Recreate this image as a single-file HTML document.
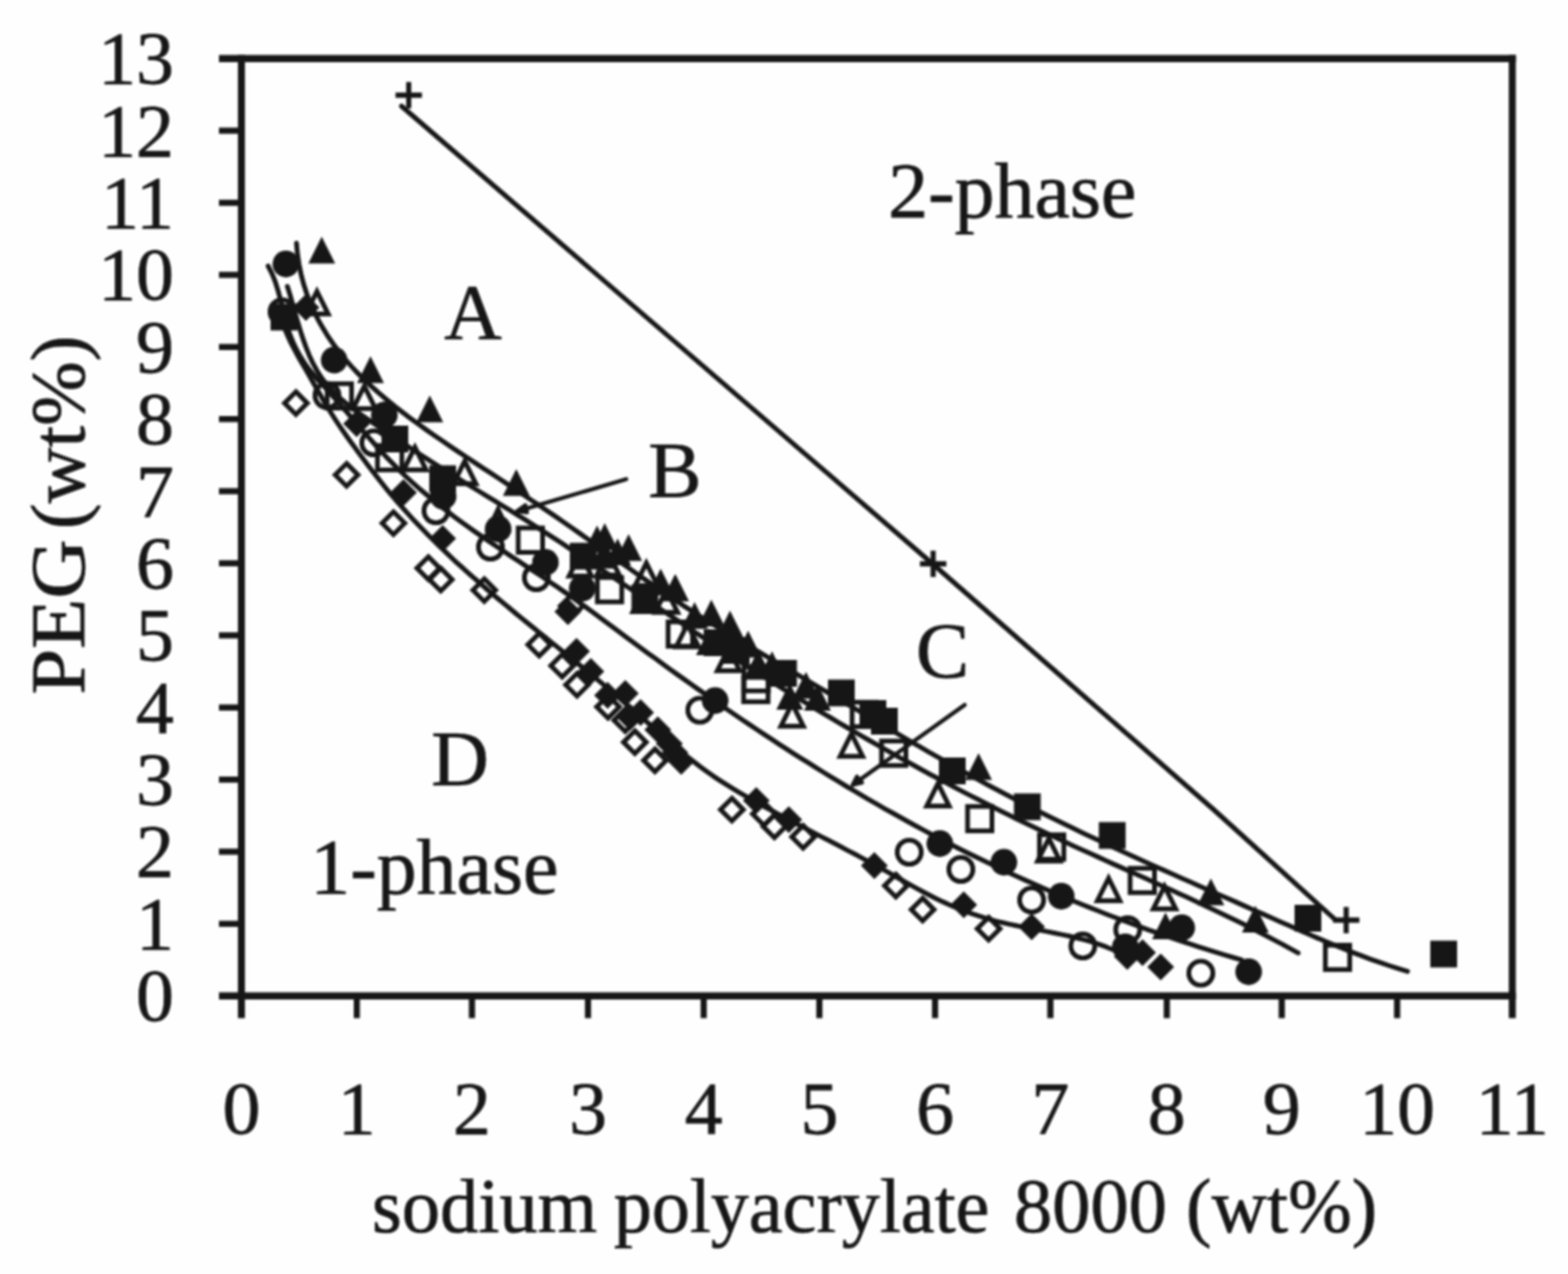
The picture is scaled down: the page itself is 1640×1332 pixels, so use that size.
<!DOCTYPE html>
<html lang="en"><head><meta charset="utf-8"><title>PEG / sodium polyacrylate 8000 phase diagram</title>
<style>
html,body{margin:0;padding:0;background:#fefefe;}
body{width:1640px;height:1332px;overflow:hidden;}
svg{display:block;}
text{font-family:"Liberation Serif","Times New Roman",Times,serif;fill:#131313;stroke:#131313;stroke-width:0.7px;stroke-linejoin:round;}
.t{font-size:79.3px;}
.xl{font-size:80px;}
.r{font-size:83.5px;}
.ax{stroke:#131313;stroke-width:7.3;fill:none;stroke-linecap:butt;}
.tk{stroke:#131313;stroke-width:6.4;fill:none;}
.cv{stroke:#131313;stroke-width:5.0;fill:none;stroke-linecap:round;stroke-linejoin:round;}
.ar{stroke:#131313;stroke-width:4.2;fill:none;stroke-linecap:round;stroke-linejoin:round;}
.f{fill:#131313;stroke:none;}
.o{fill:none;stroke:#131313;stroke-width:4.9;stroke-linejoin:miter;}
.p{fill:none;stroke:#131313;stroke-width:5.3;}
</style></head><body>
<svg width="1640" height="1332" viewBox="0 0 1640 1332" role="img" aria-label="Phase diagram of PEG versus sodium polyacrylate 8000">
<defs><filter id="soft" x="0" y="0" width="1640" height="1332" filterUnits="userSpaceOnUse"><feGaussianBlur stdDeviation="0.9"/></filter></defs>
<rect width="1640" height="1332" fill="#fefefe"/>
<g filter="url(#soft)">
<g class="ax">
<path d="M229.00,61.25 H1585.40"/>
<path d="M229.00,1041.25 H1585.40"/>
<path d="M252.50,57.60 V1064.50"/>
<path d="M1581.75,57.60 V1064.50"/>
</g>
<g class="tk">
<path d="M229,965.87 H252.50"/>
<path d="M229,890.48 H252.50"/>
<path d="M229,815.10 H252.50"/>
<path d="M229,739.71 H252.50"/>
<path d="M229,664.33 H252.50"/>
<path d="M229,588.94 H252.50"/>
<path d="M229,513.56 H252.50"/>
<path d="M229,438.17 H252.50"/>
<path d="M229,362.79 H252.50"/>
<path d="M229,287.40 H252.50"/>
<path d="M229,212.02 H252.50"/>
<path d="M229,136.63 H252.50"/>
<path d="M373.20,1041.25 V1064.5"/>
<path d="M493.60,1041.25 V1064.5"/>
<path d="M615.00,1041.25 V1064.5"/>
<path d="M736.00,1041.25 V1064.5"/>
<path d="M857.00,1041.25 V1064.5"/>
<path d="M978.00,1041.25 V1064.5"/>
<path d="M1098.60,1041.25 V1064.5"/>
<path d="M1220.40,1041.25 V1064.5"/>
<path d="M1340.60,1041.25 V1064.5"/>
<path d="M1461.30,1041.25 V1064.5"/>
</g>
<g class="t" text-anchor="end">
<text x="182" y="1067.2">0</text>
<text x="182" y="991.8">1</text>
<text x="182" y="916.4">2</text>
<text x="182" y="841.0">3</text>
<text x="182" y="765.6">4</text>
<text x="182" y="690.2">5</text>
<text x="182" y="614.8">6</text>
<text x="182" y="539.5">7</text>
<text x="182" y="464.1">8</text>
<text x="182" y="388.7">9</text>
<text x="182" y="313.3">10</text>
<text x="182" y="237.9">11</text>
<text x="182" y="162.5">12</text>
<text x="182" y="87.2">13</text>
</g>
<g class="t" text-anchor="middle">
<text x="252.5" y="1184.7">0</text>
<text x="373.2" y="1184.7">1</text>
<text x="493.6" y="1184.7">2</text>
<text x="615.0" y="1184.7">3</text>
<text x="736.0" y="1184.7">4</text>
<text x="857.0" y="1184.7">5</text>
<text x="978.0" y="1184.7">6</text>
<text x="1098.6" y="1184.7">7</text>
<text x="1220.4" y="1184.7">8</text>
<text x="1340.6" y="1184.7">9</text>
<text x="1461.3" y="1184.7">10</text>
<text x="1581.8" y="1184.7">11</text>
</g>
<text class="xl" y="1288"><tspan x="389.0">sodium</tspan> <tspan x="642.0" style="font-size:79.5px">polyacrylate</tspan> <tspan x="1060.5">8000</tspan> <tspan x="1240.5">(wt%)</tspan></text>
<text class="xl" transform="translate(88,726.3) rotate(-90) scale(1.075,1.015)">PEG</text>
<text class="xl" transform="translate(88,553.2) rotate(-90) scale(1.012,1.015)">(wt%)</text>
<text class="r" x="929" y="226.5">2-phase</text>
<text class="r" x="324.5" y="934.2">1-phase</text>
<text class="r" x="464.5" y="353.5">A</text>
<text class="r" x="678" y="519">B</text>
<text class="r" x="958" y="708">C</text>
<text class="r" x="451" y="821">D</text>
<g class="cv">
<path d="M420.0,111.0 L976.0,590.0 L1270.0,847.0 L1396.0,961.0"/>
<path d="M310.1,254.2 L311.1,265.2 L312.7,275.9 L314.8,286.3 L317.4,296.5 L320.6,306.3 L324.2,315.9 L328.2,325.1 L332.7,334.2 L337.7,342.9 L342.9,351.5 L348.6,359.7 L354.6,367.8 L361.0,375.6 L367.6,383.1 L374.5,390.5 L381.7,397.6 L389.2,404.6 L396.8,411.4 L404.6,418.0 L412.5,424.5 L420.6,430.8 L428.8,437.0 L437.1,443.1 L445.5,449.1 L453.9,455.0 L462.4,460.8 L470.9,466.6 L479.4,472.4 L488.0,478.0 L496.5,483.7 L505.1,489.3 L513.7,494.9 L522.2,500.5 L530.7,506.2 L539.3,511.8 L547.8,517.5 L556.2,523.2 L564.7,528.9 L573.1,534.6 L581.6,540.4 L590.0,546.2 L598.3,552.0 L606.7,557.9 L615.0,563.8 L623.4,569.7 L631.7,575.6 L640.1,581.5 L648.4,587.4 L656.8,593.3 L665.1,599.2 L673.5,605.1 L681.9,610.9 L690.4,616.7 L698.8,622.4 L707.3,628.1 L715.8,633.8 L724.4,639.3 L733.0,644.8 L741.7,650.3 L750.4,655.7 L759.1,661.0 L767.9,666.3 L776.6,671.5 L785.4,676.8 L794.3,682.0 L803.1,687.1 L811.9,692.3 L820.8,697.5 L829.6,702.7 L838.4,707.9 L847.2,713.1 L856.1,718.3 L864.9,723.5 L873.7,728.8 L882.5,734.0 L891.3,739.2 L900.1,744.4 L908.9,749.7 L917.7,754.9 L926.6,760.1 L935.4,765.2 L944.2,770.4 L953.1,775.6 L961.9,780.7 L970.8,785.8 L979.7,790.9 L988.6,795.9 L997.5,800.9 L1006.4,805.9 L1015.4,810.9 L1024.4,815.8 L1033.3,820.7 L1042.4,825.5 L1051.4,830.3 L1060.5,835.0 L1069.5,839.7 L1078.6,844.3 L1087.8,848.9 L1096.9,853.5 L1106.1,858.0 L1115.3,862.5 L1124.5,867.0 L1133.7,871.4 L1142.9,875.8 L1152.2,880.1 L1161.4,884.5 L1170.7,888.7 L1180.0,893.0 L1189.3,897.3 L1198.6,901.5 L1208.0,905.7 L1217.3,909.9 L1226.7,914.0 L1236.0,918.2 L1245.4,922.3 L1254.7,926.5 L1264.1,930.6 L1273.5,934.7 L1282.8,938.8 L1292.2,942.9 L1301.6,947.1 L1310.9,951.2 L1320.3,955.4 L1329.6,959.5 L1339.0,963.7 L1348.4,967.8 L1357.7,971.9 L1367.1,976.0 L1376.5,980.1 L1385.9,984.0 L1395.3,988.0 L1404.8,991.8 L1414.3,995.6 L1423.8,999.2 L1433.4,1002.8 L1443.0,1006.2 L1452.7,1009.5 L1462.4,1012.6 L1472.2,1015.6"/>
<path d="M300.6,299.5 L303.4,308.5 L306.0,317.6 L308.5,326.8 L311.2,335.9 L313.9,344.9 L316.8,353.9 L319.9,362.6 L323.3,371.2 L327.1,379.4 L331.4,387.3 L336.2,394.8 L341.5,401.9 L347.5,408.5 L354.0,414.8 L360.8,420.7 L368.0,426.4 L375.5,431.9 L383.1,437.3 L390.9,442.6 L398.6,447.9 L406.4,453.2 L414.2,458.5 L422.0,463.7 L429.8,468.9 L437.7,474.0 L445.6,479.1 L453.4,484.1 L461.3,489.0 L469.2,494.0 L477.1,498.9 L485.0,503.8 L492.9,508.6 L500.8,513.5 L508.7,518.4 L516.6,523.2 L524.5,528.1 L532.4,532.9 L540.3,537.8 L548.1,542.7 L555.9,547.7 L563.8,552.7 L571.6,557.7 L579.4,562.7 L587.2,567.7 L594.9,572.8 L602.7,577.9 L610.5,583.0 L618.2,588.2 L626.0,593.3 L633.7,598.5 L641.4,603.7 L649.2,608.8 L656.9,614.0 L664.6,619.2 L672.3,624.4 L680.1,629.6 L687.8,634.8 L695.5,640.0 L703.3,645.2 L711.0,650.3 L718.8,655.5 L726.5,660.7 L734.3,665.8 L742.1,670.9 L749.8,676.1 L757.6,681.1 L765.4,686.2 L773.3,691.3 L781.1,696.3 L788.9,701.3 L796.8,706.3 L804.7,711.2 L812.5,716.2 L820.4,721.1 L828.3,726.0 L836.3,730.8 L844.2,735.7 L852.2,740.5 L860.1,745.3 L868.1,750.0 L876.1,754.8 L884.1,759.5 L892.1,764.2 L900.2,768.8 L908.2,773.5 L916.3,778.1 L924.3,782.7 L932.4,787.2 L940.5,791.8 L948.7,796.3 L956.8,800.8 L964.9,805.2 L973.1,809.7 L981.3,814.0 L989.5,818.4 L997.7,822.8 L1005.9,827.1 L1014.2,831.4 L1022.4,835.6 L1030.7,839.8 L1039.0,844.0 L1047.3,848.2 L1055.6,852.3 L1063.9,856.4 L1072.3,860.5 L1080.7,864.6 L1089.1,868.6 L1097.5,872.6 L1105.9,876.5 L1114.3,880.5 L1122.8,884.4 L1131.2,888.2 L1139.7,892.1 L1148.2,895.9 L1156.6,899.8 L1165.1,903.6 L1173.6,907.4 L1182.1,911.2 L1190.6,915.0 L1199.1,918.8 L1207.6,922.7 L1216.1,926.5 L1224.6,930.3 L1233.0,934.2 L1241.5,938.1 L1249.9,942.0 L1258.3,945.9 L1266.8,949.9 L1275.2,953.9 L1283.5,957.9 L1291.9,962.0 L1300.2,966.1 L1308.5,970.3 L1316.8,974.5 L1325.1,978.7 L1333.3,983.1 L1341.5,987.4 L1349.6,991.9 L1357.8,996.4"/>
<path d="M280.4,278.1 L284.5,286.1 L287.9,294.6 L290.7,303.5 L293.2,312.7 L295.4,321.9 L297.7,331.2 L300.2,340.3 L303.0,349.2 L306.5,357.8 L310.4,366.0 L314.9,373.9 L319.8,381.5 L325.3,388.7 L331.2,395.7 L337.4,402.4 L343.6,409.1 L349.7,416.0 L355.8,422.9 L361.9,429.9 L368.0,437.0 L374.1,444.0 L380.1,451.1 L386.3,458.1 L392.4,465.0 L398.7,471.9 L405.0,478.7 L411.4,485.3 L418.0,491.9 L424.6,498.2 L431.4,504.5 L438.3,510.6 L445.3,516.5 L452.4,522.4 L459.5,528.2 L466.8,533.8 L474.1,539.4 L481.5,544.9 L488.9,550.3 L496.4,555.6 L504.0,560.9 L511.6,566.1 L519.3,571.3 L526.9,576.4 L534.6,581.6 L542.4,586.7 L550.1,591.8 L557.8,596.9 L565.6,602.0 L573.2,607.2 L580.9,612.3 L588.5,617.6 L596.1,622.9 L603.6,628.2 L611.1,633.6 L618.5,639.0 L625.9,644.5 L633.3,650.0 L640.7,655.5 L648.1,661.0 L655.4,666.5 L662.9,672.0 L670.3,677.4 L677.7,682.9 L685.2,688.3 L692.6,693.8 L700.1,699.2 L707.6,704.6 L715.1,709.9 L722.7,715.3 L730.2,720.6 L737.8,725.9 L745.4,731.2 L753.0,736.5 L760.6,741.7 L768.3,747.0 L775.9,752.2 L783.6,757.3 L791.3,762.5 L799.0,767.6 L806.7,772.7 L814.5,777.8 L822.3,782.8 L830.0,787.8 L837.9,792.8 L845.7,797.7 L853.5,802.6 L861.4,807.5 L869.3,812.4 L877.2,817.2 L885.1,822.0 L893.1,826.7 L901.0,831.4 L909.0,836.1 L917.0,840.7 L925.0,845.3 L933.1,849.8 L941.2,854.3 L949.2,858.8 L957.4,863.2 L965.5,867.6 L973.6,872.0 L981.8,876.3 L990.0,880.5 L998.2,884.7 L1006.5,888.9 L1014.7,893.0 L1023.0,897.1 L1031.3,901.1 L1039.6,905.1 L1048.0,909.0 L1056.4,912.9 L1064.7,916.8 L1073.2,920.6 L1081.6,924.3 L1090.0,928.1 L1098.5,931.7 L1107.0,935.4 L1115.5,938.9 L1124.0,942.5 L1132.6,946.0 L1141.1,949.4 L1149.7,952.8 L1158.3,956.2 L1167.0,959.5 L1175.6,962.7 L1184.3,966.0 L1192.9,969.1 L1201.6,972.3 L1210.4,975.3 L1219.1,978.4 L1227.9,981.4 L1236.6,984.3 L1245.4,987.2 L1254.2,990.1 L1263.1,992.9 L1271.9,995.7 L1280.8,998.4 L1289.7,1001.0 L1298.6,1003.7"/>
<path d="M295.2,336.3 L297.9,343.9 L301.0,351.3 L304.4,358.6 L308.1,365.7 L311.9,372.7 L315.9,379.7 L319.9,386.6 L323.9,393.5 L327.8,400.4 L331.8,407.3 L335.7,414.1 L339.7,421.0 L343.8,427.8 L348.0,434.5 L352.3,441.2 L356.7,447.7 L361.3,454.3 L365.9,460.8 L370.7,467.3 L375.4,473.8 L380.3,480.2 L385.1,486.7 L390.1,493.2 L395.1,499.6 L400.1,506.0 L405.2,512.4 L410.4,518.6 L415.7,524.8 L421.1,530.9 L426.5,536.9 L431.9,542.9 L437.5,548.8 L443.1,554.6 L448.7,560.3 L454.5,566.0 L460.2,571.7 L466.1,577.2 L471.9,582.8 L477.8,588.3 L483.8,593.7 L489.8,599.1 L495.9,604.4 L501.9,609.7 L508.0,615.0 L514.2,620.3 L520.4,625.5 L526.6,630.7 L532.8,635.8 L539.0,641.0 L545.3,646.1 L551.6,651.2 L557.8,656.3 L564.1,661.4 L570.5,666.5 L576.8,671.6 L583.1,676.6 L589.4,681.7 L595.7,686.8 L602.0,691.9 L608.3,697.0 L614.6,702.1 L620.9,707.3 L627.1,712.4 L633.4,717.6 L639.6,722.8 L645.8,728.0 L652.0,733.3 L658.1,738.6 L664.3,743.9 L670.3,749.3 L676.4,754.7 L682.5,760.0 L688.6,765.4 L694.7,770.7 L700.8,776.0 L707.0,781.3 L713.2,786.5 L719.4,791.6 L725.8,796.5 L732.2,801.4 L738.7,806.2 L745.2,810.8 L751.9,815.3 L758.7,819.7 L765.5,823.9 L772.5,828.1 L779.4,832.2 L786.5,836.2 L793.5,840.1 L800.6,844.0 L807.7,847.8 L814.9,851.6 L822.0,855.4 L829.2,859.2 L836.3,862.9 L843.5,866.6 L850.7,870.4 L857.8,874.1 L865.0,877.8 L872.2,881.5 L879.4,885.3 L886.5,889.1 L893.7,892.8 L900.8,896.6 L907.9,900.5 L915.1,904.3 L922.2,908.2 L929.2,912.2 L936.3,916.2 L943.4,920.2 L950.4,924.2 L957.5,928.1 L964.6,932.0 L971.8,935.8 L979.0,939.4 L986.3,942.9 L993.6,946.2 L1001.1,949.4 L1008.6,952.3 L1016.1,955.1 L1023.8,957.7 L1031.5,960.1 L1039.2,962.3 L1047.1,964.3 L1055.0,966.1 L1062.9,967.8 L1070.8,969.4 L1078.8,970.9 L1086.8,972.4 L1094.8,973.9 L1102.7,975.5 L1110.7,977.1 L1118.6,978.8 L1126.5,980.7 L1134.3,982.7 L1142.1,984.9 L1149.8,987.4 L1157.4,990.2 L1164.9,993.2"/>
</g>
<g class="ar">
<path d="M655,501 L541,534.5"/>
<path d="M549.5,528.2 L541,534.5 L551.2,535.6 Z" fill="#131313"/>
<path d="M1009,737 L892,820.5"/>
<path d="M896.3,812 L892,820.5 L901.6,818.2 Z" fill="#131313"/>
</g>
<g class="f">
<rect x="283.0" y="317.5" width="28.0" height="28.0"/>
<rect x="399.0" y="445.0" width="28.0" height="28.0"/>
<rect x="449.0" y="486.5" width="28.0" height="28.0"/>
<rect x="596.0" y="567.5" width="28.0" height="28.0"/>
<rect x="660.5" y="611.0" width="28.0" height="28.0"/>
<rect x="736.0" y="658.0" width="28.0" height="28.0"/>
<rect x="756.0" y="666.0" width="28.0" height="28.0"/>
<rect x="805.5" y="690.0" width="28.0" height="28.0"/>
<rect x="866.0" y="710.5" width="28.0" height="28.0"/>
<rect x="899.0" y="732.0" width="28.0" height="28.0"/>
<rect x="911.0" y="740.0" width="28.0" height="28.0"/>
<rect x="982.0" y="792.0" width="28.0" height="28.0"/>
<rect x="1060.5" y="829.5" width="28.0" height="28.0"/>
<rect x="1149.3" y="859.5" width="28.0" height="28.0"/>
<rect x="1354.0" y="946.0" width="28.0" height="28.0"/>
<rect x="1496.0" y="983.5" width="28.0" height="28.0"/>
<path d="M336.5,247.5 L350.5,275.5 L322.5,275.5 Z"/>
<path d="M387.5,372.5 L401.5,400.5 L373.5,400.5 Z"/>
<path d="M449.5,413.5 L463.5,441.5 L435.5,441.5 Z"/>
<path d="M540.0,490.5 L554.0,518.5 L526.0,518.5 Z"/>
<path d="M631.0,566.5 L645.0,594.5 L617.0,594.5 Z"/>
<path d="M646.0,563.0 L660.0,591.0 L632.0,591.0 Z"/>
<path d="M742.0,657.0 L756.0,685.0 L728.0,685.0 Z"/>
<path d="M793.0,679.5 L807.0,707.5 L779.0,707.5 Z"/>
<path d="M624.5,549.5 L638.5,577.5 L610.5,577.5 Z"/>
<path d="M632.5,547.0 L646.5,575.0 L618.5,575.0 Z"/>
<path d="M657.5,558.5 L671.5,586.5 L643.5,586.5 Z"/>
<path d="M672.0,614.0 L686.0,642.0 L658.0,642.0 Z"/>
<path d="M691.0,594.5 L705.0,622.5 L677.0,622.5 Z"/>
<path d="M706.0,600.5 L720.0,628.5 L692.0,628.5 Z"/>
<path d="M706.5,600.5 L720.5,628.5 L692.5,628.5 Z"/>
<path d="M726.5,629.5 L740.5,657.5 L712.5,657.5 Z"/>
<path d="M744.0,627.0 L758.0,655.0 L730.0,655.0 Z"/>
<path d="M763.5,638.5 L777.5,666.5 L749.5,666.5 Z"/>
<path d="M782.5,659.5 L796.5,687.5 L768.5,687.5 Z"/>
<path d="M807.5,681.0 L821.5,709.0 L793.5,709.0 Z"/>
<path d="M843.0,702.5 L857.0,730.5 L829.0,730.5 Z"/>
<path d="M826.0,714.0 L840.0,742.0 L812.0,742.0 Z"/>
<path d="M855.0,715.0 L869.0,743.0 L841.0,743.0 Z"/>
<path d="M1023.5,787.5 L1037.5,815.5 L1009.5,815.5 Z"/>
<path d="M1266.5,918.5 L1280.5,946.5 L1252.5,946.5 Z"/>
<path d="M1313.0,947.0 L1327.0,975.0 L1299.0,975.0 Z"/>
<path d="M1219.0,954.0 L1233.0,982.0 L1205.0,982.0 Z"/>
<circle cx="299.0" cy="276.0" r="13.9"/>
<circle cx="349.5" cy="376.5" r="13.9"/>
<circle cx="402.0" cy="434.0" r="13.9"/>
<circle cx="463.5" cy="519.0" r="13.9"/>
<circle cx="521.0" cy="553.0" r="13.9"/>
<circle cx="570.5" cy="588.0" r="13.9"/>
<circle cx="609.0" cy="615.0" r="13.9"/>
<circle cx="748.0" cy="732.5" r="13.9"/>
<circle cx="983.0" cy="882.0" r="13.9"/>
<circle cx="1050.0" cy="901.5" r="13.9"/>
<circle cx="1110.0" cy="937.0" r="13.9"/>
<circle cx="1236.0" cy="970.0" r="13.9"/>
<circle cx="1177.0" cy="990.0" r="13.9"/>
<circle cx="1306.0" cy="1016.0" r="13.9"/>
<path d="M706.0,773.0 L720.0,787.0 L706.0,801.0 L692.0,787.0 Z"/>
<path d="M659.0,736.0 L673.0,750.0 L659.0,764.0 L645.0,750.0 Z"/>
<path d="M320.0,307.5 L334.0,321.5 L320.0,335.5 L306.0,321.5 Z"/>
<path d="M373.0,429.0 L387.0,443.0 L373.0,457.0 L359.0,443.0 Z"/>
<path d="M422.0,501.0 L436.0,515.0 L422.0,529.0 L408.0,515.0 Z"/>
<path d="M463.0,549.0 L477.0,563.0 L463.0,577.0 L449.0,563.0 Z"/>
<path d="M594.0,625.5 L608.0,639.5 L594.0,653.5 L580.0,639.5 Z"/>
<path d="M603.0,667.0 L617.0,681.0 L603.0,695.0 L589.0,681.0 Z"/>
<path d="M618.0,688.0 L632.0,702.0 L618.0,716.0 L604.0,702.0 Z"/>
<path d="M635.5,713.0 L649.5,727.0 L635.5,741.0 L621.5,727.0 Z"/>
<path d="M654.0,711.0 L668.0,725.0 L654.0,739.0 L640.0,725.0 Z"/>
<path d="M670.0,731.0 L684.0,745.0 L670.0,759.0 L656.0,745.0 Z"/>
<path d="M688.0,749.0 L702.0,763.0 L688.0,777.0 L674.0,763.0 Z"/>
<path d="M700.0,763.5 L714.0,777.5 L700.0,791.5 L686.0,777.5 Z"/>
<path d="M712.5,782.0 L726.5,796.0 L712.5,810.0 L698.5,796.0 Z"/>
<path d="M791.0,823.0 L805.0,837.0 L791.0,851.0 L777.0,837.0 Z"/>
<path d="M825.0,843.0 L839.0,857.0 L825.0,871.0 L811.0,857.0 Z"/>
<path d="M914.5,891.0 L928.5,905.0 L914.5,919.0 L900.5,905.0 Z"/>
<path d="M1008.0,932.0 L1022.0,946.0 L1008.0,960.0 L994.0,946.0 Z"/>
<path d="M1079.0,955.0 L1093.0,969.0 L1079.0,983.0 L1065.0,969.0 Z"/>
<path d="M1179.0,986.0 L1193.0,1000.0 L1179.0,1014.0 L1165.0,1000.0 Z"/>
<path d="M1195.0,982.0 L1209.0,996.0 L1195.0,1010.0 L1181.0,996.0 Z"/>
<path d="M1214.0,997.0 L1228.0,1011.0 L1214.0,1025.0 L1200.0,1011.0 Z"/>
</g>
<g class="o">
<rect x="342.2" y="401.2" width="25.5" height="25.5"/>
<rect x="394.8" y="465.8" width="25.5" height="25.5"/>
<rect x="542.0" y="552.0" width="25.5" height="25.5"/>
<rect x="624.8" y="603.8" width="25.5" height="25.5"/>
<rect x="698.8" y="650.2" width="25.5" height="25.5"/>
<rect x="778.2" y="696.8" width="25.5" height="25.5"/>
<rect x="777.8" y="708.2" width="25.5" height="25.5"/>
<rect x="891.2" y="734.2" width="25.5" height="25.5"/>
<rect x="922.0" y="774.8" width="25.5" height="25.5"/>
<rect x="1012.0" y="843.2" width="25.5" height="25.5"/>
<rect x="1087.2" y="872.8" width="25.5" height="25.5"/>
<rect x="1182.0" y="907.8" width="25.5" height="25.5"/>
<rect x="1386.2" y="988.2" width="25.5" height="25.5"/>
<path d="M719.0,652.7 L730.8,676.3 L707.2,676.3 Z"/>
<path d="M331.5,304.7 L343.3,328.3 L319.7,328.3 Z"/>
<path d="M381.0,403.7 L392.8,427.3 L369.2,427.3 Z"/>
<path d="M434.0,467.7 L445.8,491.3 L422.2,491.3 Z"/>
<path d="M486.0,482.2 L497.8,505.8 L474.2,505.8 Z"/>
<path d="M607.0,578.7 L618.8,602.3 L595.2,602.3 Z"/>
<path d="M636.0,577.7 L647.8,601.3 L624.2,601.3 Z"/>
<path d="M676.0,588.7 L687.8,612.3 L664.2,612.3 Z"/>
<path d="M697.0,616.7 L708.8,640.3 L685.2,640.3 Z"/>
<path d="M762.0,677.7 L773.8,701.3 L750.2,701.3 Z"/>
<path d="M828.5,735.7 L840.3,759.3 L816.7,759.3 Z"/>
<path d="M890.5,767.2 L902.3,790.8 L878.7,790.8 Z"/>
<path d="M981.0,819.2 L992.8,842.8 L969.2,842.8 Z"/>
<path d="M1097.0,876.7 L1108.8,900.3 L1085.2,900.3 Z"/>
<path d="M1159.5,918.2 L1171.3,941.8 L1147.7,941.8 Z"/>
<path d="M1218.0,926.7 L1229.8,950.3 L1206.2,950.3 Z"/>
<path d="M521.0,532.5 L531.2,554.0 L510.8,554.0 Z"/>
<circle cx="295.0" cy="326.0" r="12.6"/>
<circle cx="342.0" cy="413.5" r="12.6"/>
<circle cx="391.0" cy="463.0" r="12.6"/>
<circle cx="456.0" cy="534.0" r="12.6"/>
<circle cx="513.0" cy="572.0" r="12.6"/>
<circle cx="561.0" cy="604.0" r="12.6"/>
<circle cx="732.0" cy="742.5" r="12.6"/>
<circle cx="951.0" cy="891.0" r="12.6"/>
<circle cx="1005.0" cy="909.0" r="12.6"/>
<circle cx="1079.0" cy="941.0" r="12.6"/>
<circle cx="1179.5" cy="972.0" r="12.6"/>
<circle cx="1132.5" cy="989.0" r="12.6"/>
<circle cx="1256.0" cy="1017.5" r="12.6"/>
<path d="M598.0,621.6 L609.9,633.5 L598.0,645.4 L586.1,633.5 Z"/>
<path d="M309.5,409.6 L321.4,421.5 L309.5,433.4 L297.6,421.5 Z"/>
<path d="M362.5,484.6 L374.4,496.5 L362.5,508.4 L350.6,496.5 Z"/>
<path d="M411.5,535.1 L423.4,547.0 L411.5,558.9 L399.6,547.0 Z"/>
<path d="M448.0,582.1 L459.9,594.0 L448.0,605.9 L436.1,594.0 Z"/>
<path d="M461.0,594.1 L472.9,606.0 L461.0,617.9 L449.1,606.0 Z"/>
<path d="M506.5,605.1 L518.4,617.0 L506.5,628.9 L494.6,617.0 Z"/>
<path d="M564.0,662.1 L575.9,674.0 L564.0,685.9 L552.1,674.0 Z"/>
<path d="M588.0,684.1 L599.9,696.0 L588.0,707.9 L576.1,696.0 Z"/>
<path d="M603.5,704.1 L615.4,716.0 L603.5,727.9 L591.6,716.0 Z"/>
<path d="M636.0,727.1 L647.9,739.0 L636.0,750.9 L624.1,739.0 Z"/>
<path d="M654.0,741.1 L665.9,753.0 L654.0,764.9 L642.1,753.0 Z"/>
<path d="M664.0,764.1 L675.9,776.0 L664.0,787.9 L652.1,776.0 Z"/>
<path d="M685.0,783.1 L696.9,795.0 L685.0,806.9 L673.1,795.0 Z"/>
<path d="M765.5,834.6 L777.4,846.5 L765.5,858.4 L753.6,846.5 Z"/>
<path d="M799.0,839.1 L810.9,851.0 L799.0,862.9 L787.1,851.0 Z"/>
<path d="M810.0,852.1 L821.9,864.0 L810.0,875.9 L798.1,864.0 Z"/>
<path d="M840.0,863.1 L851.9,875.0 L840.0,886.9 L828.1,875.0 Z"/>
<path d="M937.0,914.1 L948.9,926.0 L937.0,937.9 L925.1,926.0 Z"/>
<path d="M965.0,939.1 L976.9,951.0 L965.0,962.9 L953.1,951.0 Z"/>
<path d="M1034.0,959.1 L1045.9,971.0 L1034.0,982.9 L1022.1,971.0 Z"/>
</g>
<g class="p">
<path d="M413.7,99.5 H441.3 M427.5,85.7 V113.3"/>
<path d="M962.2,589.5 H989.8 M976.0,575.7 V603.3"/>
<path d="M1394.2,962.0 H1421.8 M1408.0,948.2 V975.8"/>
</g>
</g>
</svg></body></html>
